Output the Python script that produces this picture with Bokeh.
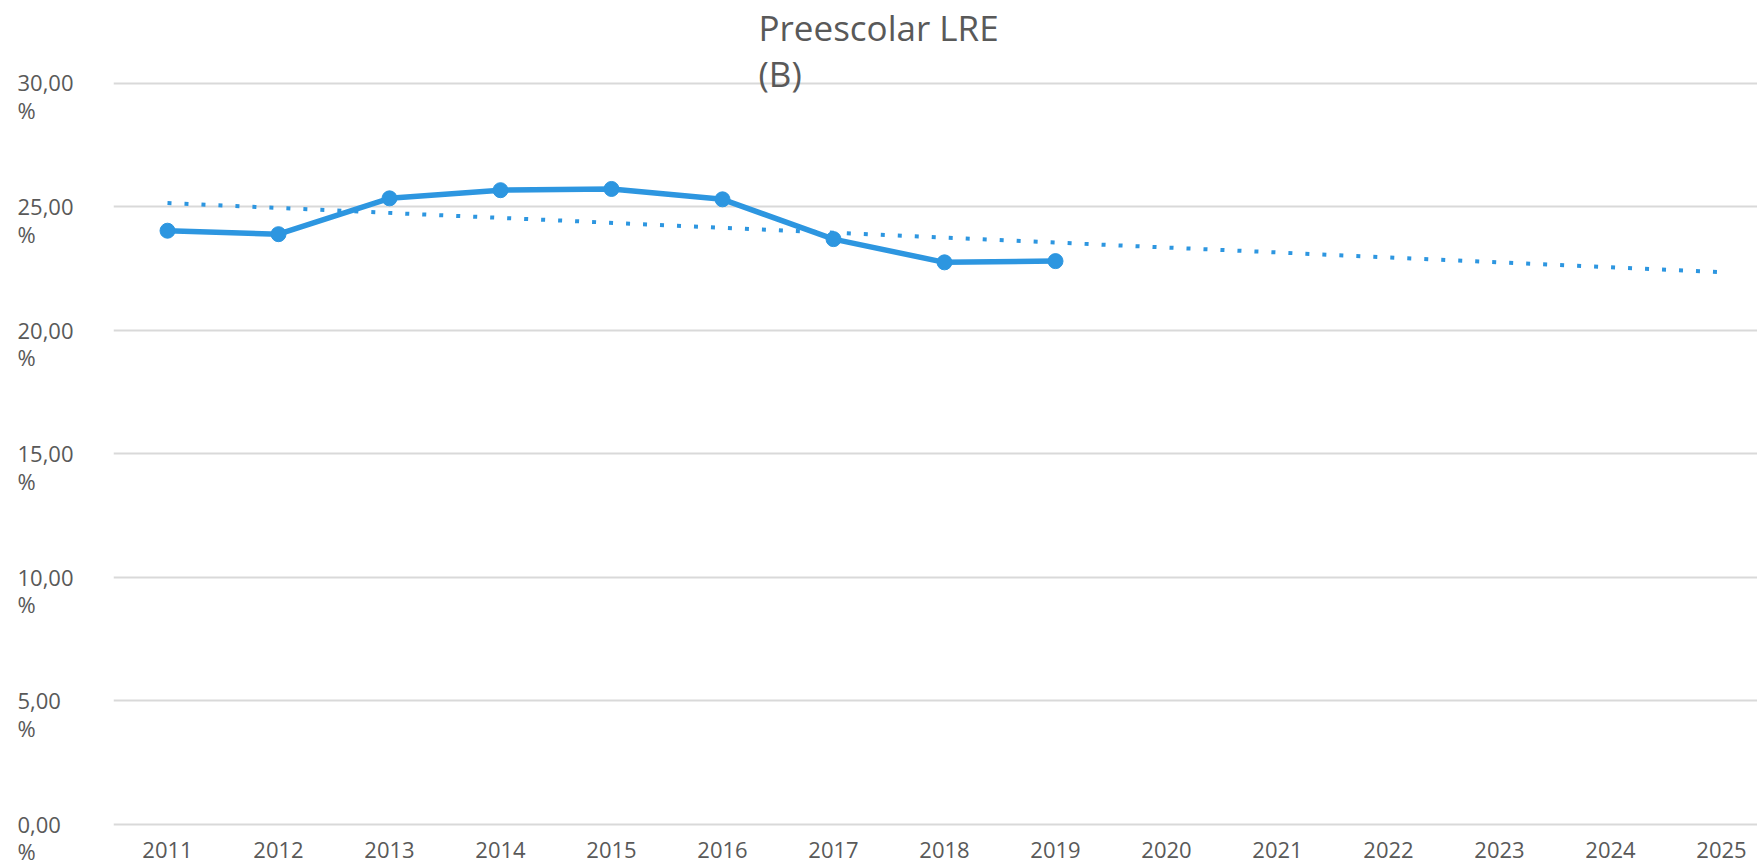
from bokeh.plotting import figure
from bokeh.layouts import row
from bokeh.models import Range1d, FixedTicker, Grid, Label, ColumnDataSource
from bokeh.core.properties import value
from bokeh.embed import file_html
from bokeh.resources import INLINE

# ---- data ----
years = [2011, 2012, 2013, 2014, 2015, 2016, 2017, 2018, 2019]
values = [24.03, 23.89, 25.34, 25.67, 25.72, 25.30, 23.69, 22.75, 22.80]
trend_years = [2011, 2025]
trend_values = [25.15, 22.35]
axis_years = [2011, 2012, 2013, 2014, 2015, 2016, 2017, 2018, 2019, 2020,
              2021, 2022, 2023, 2024, 2025]
axis_year_labels = ["2011", "2012", "2013", "2014", "2015", "2016", "2017", "2018",
                    "2019", "2020", "2021", "2022", "2023", "2024", "2025"]
y_ticks = [0, 5, 10, 15, 20, 25, 30]
y_tick_labels = ["0,00\n%", "5,00\n%", "10,00\n%", "15,00\n%", "20,00\n%",
                 "25,00\n%", "30,00\n%"]
title_text = "Preescolar LRE\n(B)"

FONT = "Open Sans"
TXT = "#595959"
BLUE = "#2D96E0"

# ---- layout geometry (pixels) ----
TOTAL_W, H = 1757, 867
LEFT_W = 113                 # width of the y-label strip
W = TOTAL_W - LEFT_W         # main figure width (frame spans it fully)
Y30_PX, Y0_PX = 82.7, 824.0  # screen rows of the 30 and 0 gridlines
XLAB_PX = 849.0              # screen row of the year labels
ppu = (Y0_PX - Y30_PX) / 30.0
ymax = 30 + Y30_PX / ppu
ymin = ymax - H / ppu
px_per_year = 111.0
x0 = 2011 - 54 / px_per_year
x1 = x0 + W / px_per_year

p = figure(width=W, height=H, output_backend="svg", toolbar_location=None,
           x_range=Range1d(x0, x1), y_range=Range1d(ymin, ymax),
           x_axis_location=None, y_axis_location=None,
           min_border_left=0, min_border_right=0,
           min_border_top=0, min_border_bottom=0)
p.outline_line_color = None
for g in p.grid:
    g.visible = False

grid = Grid(dimension=1, ticker=FixedTicker(ticks=y_ticks),
            grid_line_color="#D9D9D9", grid_line_width=2)
p.add_layout(grid)

# trend line (dotted)
p.line(trend_years, trend_values, line_color=BLUE, line_width=4,
       line_dash="4 13", line_cap="butt")

src = ColumnDataSource(dict(x=years, y=values))
p.line("x", "y", source=src, line_color=BLUE, line_width=5.5, line_join="round")
p.scatter("x", "y", source=src, size=15, fill_color=BLUE, line_color=BLUE)

# year labels under the 0 line
xlab_y = -(XLAB_PX - Y0_PX) / ppu
xsrc = ColumnDataSource(dict(x=axis_years, y=[xlab_y] * len(axis_years),
                             text=axis_year_labels))
p.text("x", "y", text="text", source=xsrc, text_font=value(FONT),
       text_font_size="22px", text_color=TXT, text_align="center",
       text_baseline="middle")

# title (inside the frame, which reaches the top edge)
title_mid_px = 50.0
p.add_layout(Label(x=758 - LEFT_W, x_units="screen",
                   y=30 + (Y30_PX - title_mid_px) / ppu, y_units="data",
                   text=title_text, text_font=FONT, text_font_size="35px",
                   text_color=TXT, text_align="left", text_baseline="middle",
                   text_line_height=0.96))

# ---- y label strip, same vertical scale ----
py = figure(width=LEFT_W, height=H, output_backend="svg", toolbar_location=None,
            x_range=Range1d(0, LEFT_W), y_range=Range1d(ymin, ymax),
            x_axis_location=None, y_axis_location=None,
            min_border_left=0, min_border_right=0, min_border_top=0,
            min_border_bottom=0)
py.outline_line_color = None
for g in py.grid:
    g.visible = False
shift = 13.0 / ppu
ysrc = ColumnDataSource(dict(x=[17] * len(y_ticks),
                             y=[t - shift for t in y_ticks],
                             text=y_tick_labels))
py.text("x", "y", text="text", source=ysrc, text_font=value(FONT),
        text_font_size="22px", text_color=TXT, text_align="left",
        text_baseline="middle", text_line_height=0.92)

layout = row(py, p, spacing=0)
open("out.html", "w").write(file_html(layout, INLINE))
